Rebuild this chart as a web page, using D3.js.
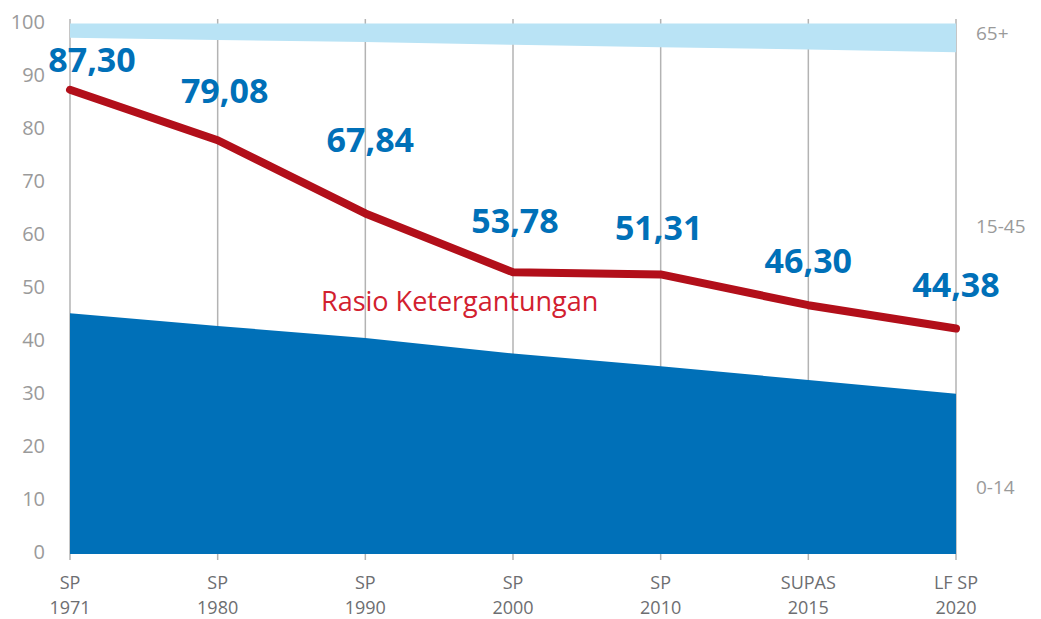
<!DOCTYPE html>
<html>
<head>
<meta charset="utf-8">
<script src="https://cdn.jsdelivr.net/npm/d3@7"></script>
<style>
	body{margin:0;background:#fff;}
	svg{display:block;font-family:"Open Sans",sans-serif;}
</style>
</head>
<body>
<svg width="1041" height="619"></svg>
<script>
// data
var surveys = ["SP","SP","SP","SP","SP","SUPAS","LF SP"];
var years = ["1971","1980","1990","2000","2010","2015","2020"];
var ratioLabels = [87.30,79.08,67.84,53.78,51.31,46.30,44.38];
var ratioLine = [87.5,78.0,64.2,53.1,52.7,46.9,42.5];
var share0to14 = [45.4,43.0,40.7,37.8,35.4,32.8,30.2];
var share65plus = [2.7,3.1,3.5,4.0,4.5,4.9,5.4];
var yTicks = [0,10,20,30,40,50,60,70,80,90,100];
var groupNames = ["65+","15-45","0-14"];

// layout only: label nudges relative to the line point
var labelNudge = [[22,-18],[7,-37],[5,-61],[2,-39],[-2,-34],[0,-32],[0,-32]];

var svg = d3.select("svg");
var rows = years.map(function(y,i){
	return {key:surveys[i]+" "+y,survey:surveys[i],year:y,label:ratioLabels[i],ratio:ratioLine[i],young:share0to14[i],old:share65plus[i]};
});

var x = d3.scalePoint().domain(rows.map(function(d){return d.key;})).range([70,956]);
var y = d3.scaleLinear().domain([0,100]).range([554,23.5]);

// gridlines (behind the areas)
svg.append("g").selectAll("line")
	.data(rows)
	.enter()
	.append("line")
	.attr("x1",function(d){return x(d.key);})
	.attr("x2",function(d){return x(d.key);})
	.attr("y1",19)
	.attr("y2",560)
	.attr("stroke","#b3b3b3")
	.attr("stroke-width",1.5);

// 0-14 area
svg.append("path")
	.datum(rows)
	.attr("fill","#0070b8")
	.attr("d",d3.area()
		.x(function(d){return x(d.key);})
		.y0(y(0))
		.y1(function(d){return y(d.young);}));

// 65+ band
svg.append("path")
	.datum(rows)
	.attr("fill","#b9e3f5")
	.attr("d",d3.area()
		.x(function(d){return x(d.key);})
		.y0(function(d){return y(100-d.old);})
		.y1(y(100)));

// dependency ratio line
svg.append("path")
	.datum(rows)
	.attr("fill","none")
	.attr("stroke","#b20f1a")
	.attr("stroke-width",8)
	.attr("stroke-linecap","round")
	.attr("stroke-linejoin","round")
	.attr("d",d3.line()
		.x(function(d){return x(d.key);})
		.y(function(d){return y(d.ratio);}));

// y axis labels
svg.append("g").selectAll("text")
	.data(yTicks)
	.enter()
	.append("text")
	.attr("x",45)
	.attr("y",function(d){return y(d)-2;})
	.attr("dy","0.35em")
	.attr("text-anchor","end")
	.attr("fill","#9a9a9a")
	.attr("font-size",20)
	.text(function(d){return d;});

// x axis labels, two rows
var xg = svg.append("g")
	.attr("text-anchor","middle")
	.attr("fill","#6d6e71")
	.attr("font-size",18);
xg.selectAll("text.survey")
	.data(rows)
	.enter()
	.append("text")
	.attr("class","survey")
	.attr("x",function(d){return x(d.key);})
	.attr("y",589)
	.text(function(d){return d.survey;});
xg.selectAll("text.year")
	.data(rows)
	.enter()
	.append("text")
	.attr("class","year")
	.attr("x",function(d){return x(d.key);})
	.attr("y",613.5)
	.text(function(d){return d.year;});

// value labels
svg.append("g").selectAll("text")
	.data(rows)
	.enter()
	.append("text")
	.attr("x",function(d,i){return x(d.key)+labelNudge[i][0];})
	.attr("y",function(d,i){return y(d.ratio)+labelNudge[i][1];})
	.attr("text-anchor","middle")
	.attr("fill","#0070b8")
	.attr("font-weight","bold")
	.attr("font-size",34)
	.text(function(d){return d3.format(".2f")(d.label).replace(".",",");});

// series name
svg.append("text")
	.attr("x",321)
	.attr("y",311)
	.attr("fill","#d2202f")
	.attr("font-size",27)
	.text("Rasio Ketergantungan");

// age group names on the right
var groupY = [33,226,487];
svg.append("g").selectAll("text")
	.data(groupNames)
	.enter()
	.append("text")
	.attr("x",976)
	.attr("y",function(d,i){return groupY[i];})
	.attr("dy","0.35em")
	.attr("fill","#9a9a9a")
	.attr("font-size",19)
	.text(function(d){return d;});
</script>
</body>
</html>
